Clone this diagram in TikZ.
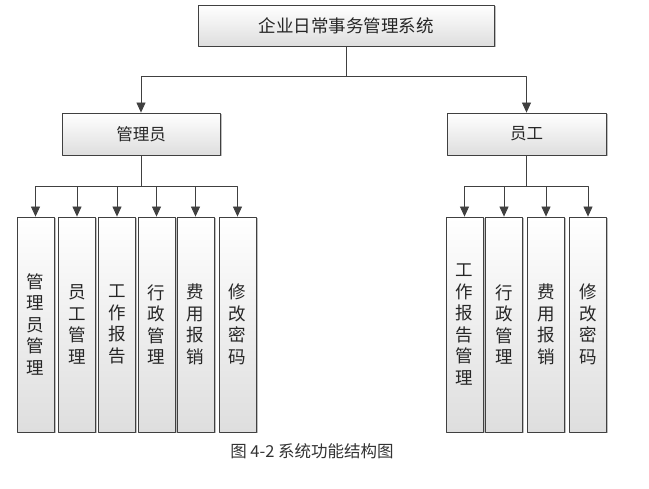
\documentclass[tikz,border=0pt]{standalone}
\usepackage{fontspec}
\newfontfamily\cjk{Noto Sans CJK SC}
\usetikzlibrary{arrows.meta,shadows}

\begin{document}
\begin{tikzpicture}[x=1pt, y=-1pt, line join=round,
    box/.style={draw=cLine, line width=0.8pt, top color=white, bottom color=cShade,
      drop shadow={shadow xshift=1.5pt, shadow yshift=-1.5pt, fill=black, opacity=0.25},
      inner sep=0pt, font=\cjk\fontsize{16.5}{21.5}\selectfont, text=black!85},
    leaf/.style={box, minimum width=37pt, minimum height=215pt, align=center,
      font=\cjk\fontsize{17.5}{21.5}\selectfont},
    arr/.style={draw=cLine, line width=0.8pt, -{Triangle[width=9pt,length=10pt]}}]
  \definecolor{cLine}{RGB}{64, 64, 64}
  \definecolor{cShade}{RGB}{222, 222, 222}

  \useasboundingbox (0,0) rectangle (649,489);

  % top level
  \node[box, minimum width=296pt, minimum height=41pt, font=\cjk\fontsize{17.5}{20}\selectfont] (sys) at (346,25.5) {企业日常事务管理系统};
  \node[box, minimum width=158pt, minimum height=42pt] (admin) at (141,134) {管理员};
  \node[box, minimum width=159pt, minimum height=42pt] (staff) at (526.5,134) {员工};

  % leaves under admin
  \node[leaf] (a1) at (35.5,324.5) {管\\理\\员\\管\\理};
  \node[leaf] (a2) at (77,324.5) {员\\工\\管\\理};
  \node[leaf] (a3) at (117,324.5) {工\\作\\报\\告};
  \node[leaf] (a4) at (156.5,324.5) {行\\政\\管\\理};
  \node[leaf] (a5) at (195.5,324.5) {费\\用\\报\\销};
  \node[leaf] (a6) at (237.5,324.5) {修\\改\\密\\码};

  % leaves under staff
  \node[leaf] (s1) at (464.5,324.5) {工\\作\\报\\告\\管\\理};
  \node[leaf] (s2) at (504,324.5) {行\\政\\管\\理};
  \node[leaf] (s3) at (546,324.5) {费\\用\\报\\销};
  \node[leaf] (s4) at (588,324.5) {修\\改\\密\\码};

  % bus lines
  \coordinate (bus) at (0,76);
  \coordinate (abus) at (0,186);

  \draw[arr] (sys.south) -- (sys.south |- bus) -| (admin.north);
  \draw[arr] (sys.south) -- (sys.south |- bus) -| (staff.north);
  \foreach \i in {1,...,6}
    \draw[arr] (admin.south) -- (admin.south |- abus) -| (a\i.north);
  \foreach \i in {1,...,4}
    \draw[arr] (staff.south) -- (staff.south |- abus) -| (s\i.north);

  \node[font=\cjk\fontsize{16.5}{18}\selectfont, text=black!80] (cap) at (312,451) {图 4-2 系统功能结构图};
\end{tikzpicture}
\end{document}
